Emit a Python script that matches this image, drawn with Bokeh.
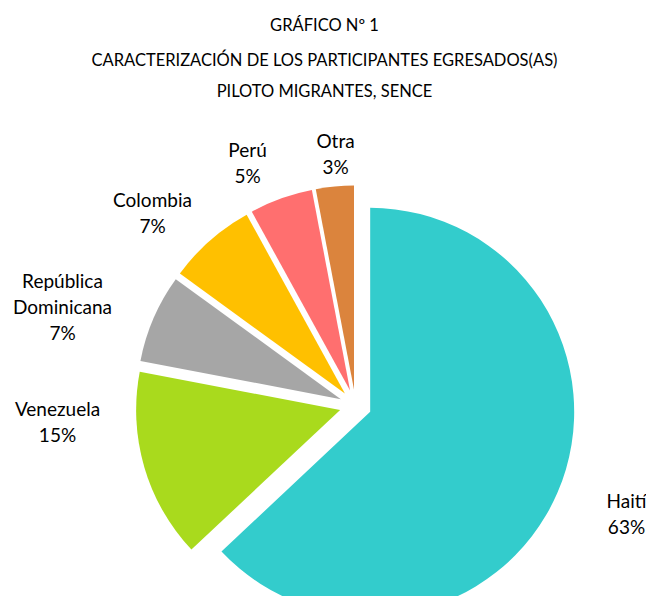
import numpy as np
from bokeh.plotting import figure
from bokeh.models import ColumnDataSource, Range1d
from bokeh.core.properties import value
from bokeh.embed import file_html
from bokeh.resources import INLINE

# ---- data ----
categories = ["Haití", "Venezuela", "República Dominicana", "Colombia", "Perú", "Otra"]
shares = [63, 15, 7, 7, 5, 3]
colors = ["#33CCCC", "#A9DA1D", "#A6A6A6", "#FFC000", "#FF6F6F", "#DB843D"]
title_lines = ["GRÁFICO Nº 1",
               "CARACTERIZACIÓN DE LOS PARTICIPANTES EGRESADOS(AS)",
               "PILOTO MIGRANTES, SENCE"]

# ---- layout (pixels; 1 data unit == 1 px) ----
W, H = 646, 596
OX, OY = 0, H            # data_x = X - OX, data_y = OY - Y (picture pixels)
CX, CY = 355 - OX, OY - 405
R = 204
EXPLODE = 16
FONT = "Lato"

# label block centres in picture pixels
label_pos = {
    "Haití": (626, 513),
    "Venezuela": (57, 421),
    "República Dominicana": (62, 306),
    "Colombia": (152, 212),
    "Perú": (247, 162),
    "Otra": (335, 153),
}
LINE = 26

vals = np.array(shares, dtype=float)
frac = vals / vals.sum()
cum = np.concatenate([[0.0], np.cumsum(frac)])
th0 = cum[:-1] * 2 * np.pi
th1 = cum[1:] * 2 * np.pi
mid = (th0 + th1) / 2

src = ColumnDataSource(dict(
    x=CX + EXPLODE * np.sin(mid),
    y=CY + EXPLODE * np.cos(mid),
    start=np.pi / 2 - th1,
    end=np.pi / 2 - th0,
    color=colors,
    cat=categories,
))

p = figure(width=W, height=H, x_range=Range1d(0, W), y_range=Range1d(0, H),
           output_backend="svg", toolbar_location=None, min_border=0,
           x_axis_location=None, y_axis_location=None)
p.grid.visible = False
p.outline_line_color = None
p.background_fill_color = "white"
p.border_fill_color = "white"

p.wedge(x="x", y="y", radius=R, start_angle="start", end_angle="end",
        fill_color="color", line_color=None, source=src)

# data labels
lx, ly, lt = [], [], []
for cat, v in zip(categories, shares):
    lines = cat.split(" ") + [f"{v}%"]
    bx, by = label_pos[cat]
    n = len(lines)
    for i, t in enumerate(lines):
        yy = by + (i - (n - 1) / 2) * LINE
        lx.append(bx - OX)
        ly.append(OY - yy)
        lt.append(t)
p.text(x=lx, y=ly, text=lt, text_align="center", text_baseline="middle",
       text_font=value(FONT), text_font_size="19px", text_color="#000000")

# title
tx = [324 - OX] * 3
ty = [OY - 24, OY - 59, OY - 90]
p.text(x=tx, y=ty, text=title_lines, text_align="center", text_baseline="middle",
       text_font=value(FONT), text_font_size="16.5px", text_color="#000000")

open("out.html", "w").write(file_html(p, INLINE))
